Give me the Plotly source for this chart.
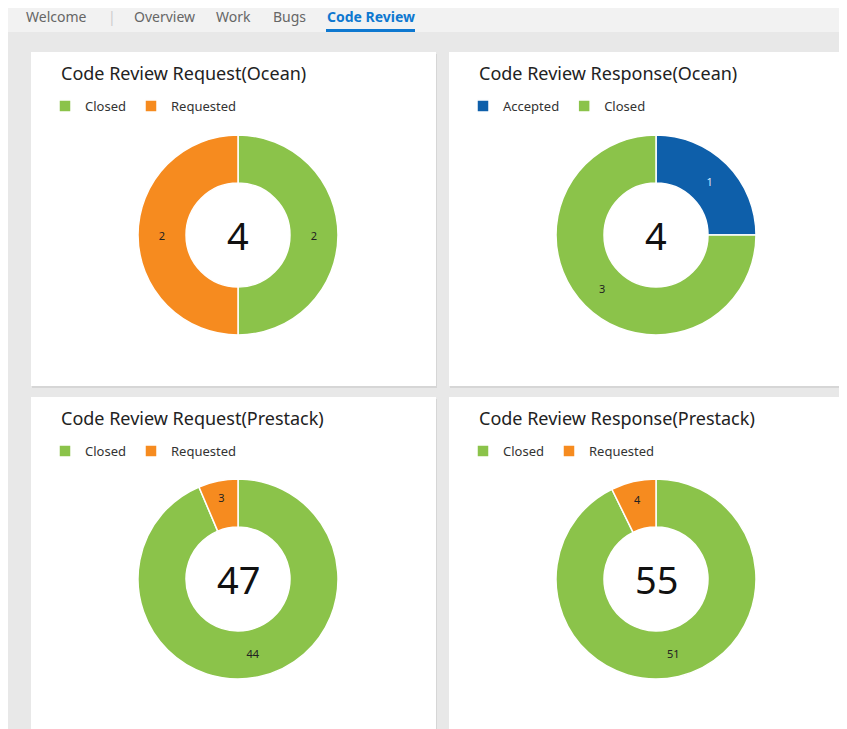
import plotly.graph_objects as go

# The page body has an 8px margin, so the figure is sized to fill the rest of the window
OFF = 8
W, H = 847 - OFF, 729 - OFF

# ---- data ----
titles = ["Code Review Request(Ocean)", "Code Review Response(Ocean)",
          "Code Review Request(Prestack)", "Code Review Response(Prestack)"]
labels_req_ocean = ["Closed", "Requested"]
values_req_ocean = [2, 2]
labels_resp_ocean = ["Accepted", "Closed"]
values_resp_ocean = [1, 3]
labels_req_prestack = ["Closed", "Requested"]
values_req_prestack = [44, 3]
labels_resp_prestack = ["Closed", "Requested"]
values_resp_prestack = [51, 4]
nav_items = ["Welcome", "|", "Overview", "Work", "Bugs", "Code Review"]

GREEN, ORANGE, BLUE = "#8BC34A", "#F68B1F", "#0E5FAA"
color_map = {"Closed": GREEN, "Requested": ORANGE, "Accepted": BLUE}
FONT = "Noto Sans, Open Sans, sans-serif"


def px(x):
    return (x - OFF) / W


def py(y):
    return 1 - (y - OFF) / H


fig = go.Figure()

shapes = []
# nav bar
shapes.append(dict(type="rect", xref="paper", yref="paper", x0=0, x1=1, y0=py(32), y1=1,
                   fillcolor="#F2F2F2", line_width=0, layer="below"))
# active tab underline
shapes.append(dict(type="rect", xref="paper", yref="paper", x0=px(326), x1=px(415), y0=py(32), y1=py(29),
                   fillcolor="#0E78D0", line_width=0, layer="below"))

panels = [(31, 52, 436, 386), (449, 52, 847, 386), (31, 397, 436, 729), (449, 397, 847, 729)]
for (x0, y0, x1, y1) in panels:
    shapes.append(dict(type="rect", xref="paper", yref="paper", x0=px(x0 + 1), x1=px(x1 + 1), y0=py(y1 + 2), y1=py(y0 + 2),
                       fillcolor="#D6D6D6", line_width=0, layer="below"))
    shapes.append(dict(type="rect", xref="paper", yref="paper", x0=px(x0), x1=px(x1), y0=py(y1), y1=py(y0),
                       fillcolor="white", line_width=0, layer="below"))

annotations = []
nav_x = [25, 107, 133, 215, 272, 326]
for name, x in zip(nav_items, nav_x):
    active = name == "Code Review"
    annotations.append(dict(x=px(x - 1), y=py(17), xref="paper", yref="paper", xanchor="left", yanchor="middle",
                            text=f"<b>{name}</b>" if active else name, showarrow=False,
                            font=dict(family=FONT, size=14,
                                      color="#0E78D0" if active else ("#CCCCCC" if name == "|" else "#666666"))))

datasets = [(labels_req_ocean, values_req_ocean), (labels_resp_ocean, values_resp_ocean),
            (labels_req_prestack, values_req_prestack), (labels_resp_prestack, values_resp_prestack)]
centers = [(238, 235), (656, 235), (238, 579), (656, 579)]
R = 100
legend_names = ["legend", "legend2", "legend3", "legend4"]

for i, ((labels, values), (cx, cy), title, lg, panel) in enumerate(
        zip(datasets, centers, titles, legend_names, panels)):
    colors = [color_map[l] for l in labels]
    text_colors = ["#D8E8FF" if l == "Accepted" else "#222222" for l in labels]
    fig.add_trace(go.Pie(
        labels=labels, values=values, hole=0.52, sort=False, direction="clockwise", rotation=0,
        marker=dict(colors=colors, line=dict(color="white", width=1.5)),
        textinfo="value", textposition="inside",
        insidetextfont=dict(family=FONT, size=11, color=text_colors),
        insidetextorientation="horizontal",
        domain=dict(x=[px(cx - R), px(cx + R)], y=[py(cy + R), py(cy - R)]),
        legend=lg, legendgroup=f"g{i}", showlegend=True, hoverinfo="label+value",
    ))
    annotations.append(dict(x=px(cx), y=py(cy), xref="paper", yref="paper", text=str(sum(values)),
                            xanchor="center", yanchor="middle",
                            showarrow=False, font=dict(family=FONT, size=38, color="#111111")))
    annotations.append(dict(x=px(panel[0] + 28), y=py(panel[1] + 21), xref="paper", yref="paper",
                            xanchor="left", yanchor="middle", text=title, showarrow=False,
                            font=dict(family=FONT, size=18, color="#222222")))
    legend_cfg = dict(orientation="h", traceorder="normal",
                      x=px(panel[0] + 14), y=py(panel[1] + 39), xanchor="left", yanchor="top",
                      bgcolor="rgba(0,0,0,0)", font=dict(family=FONT, size=13, color="#333333"),
                      itemclick=False, itemdoubleclick=False)
    fig.update_layout(**{lg: legend_cfg})

fig.update_layout(
    width=W, height=H, margin=dict(l=0, r=0, t=0, b=0),
    paper_bgcolor="#E8E8E8", plot_bgcolor="#E8E8E8",
    shapes=shapes, annotations=annotations,
)

fig.write_html("out.html")
